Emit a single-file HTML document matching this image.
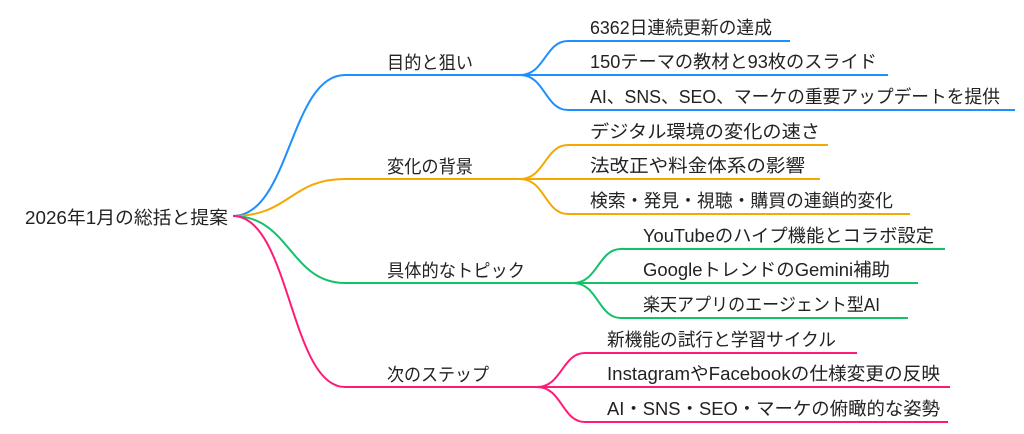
<!DOCTYPE html>
<html><head><meta charset="utf-8"><style>
body{margin:0;background:#fff;}
svg{display:block}
text{font-family:"Liberation Sans","Noto Sans CJK JP",sans-serif;font-size:18px;fill:#222;}
</style></head><body>
<svg width="1024" height="434" viewBox="0 0 1024 434">
<g fill="none" stroke-width="2">
<g stroke="#1e8fff">
<path d="M233 216 C290 216 290 75 345 75 L520 75"/>
<path d="M520 75 C545 75 545 41 568 41 L790 41"/>
<path d="M520 75 L888 75"/>
<path d="M520 75 C545 75 545 110 568 110 L1015 110"/>
</g>
<g stroke="#f5a800">
<path d="M233 216 C290 216 290 179 345 179 L520 179"/>
<path d="M520 179 C545 179 545 145 568 145 L828 145"/>
<path d="M520 179 L820 179"/>
<path d="M520 179 C545 179 545 214 568 214 L910 214"/>
</g>
<g stroke="#14c06a">
<path d="M233 216 C290 216 290 283 345 283 L573 283"/>
<path d="M573 283 C598 283 598 249 621 249 L945 249"/>
<path d="M573 283 L918 283"/>
<path d="M573 283 C598 283 598 318 621 318 L908 318"/>
</g>
<g stroke="#ff1a78">
<path d="M233 216 C290 216 290 387 345 387 L537 387"/>
<path d="M537 387 C562 387 562 353 585 353 L857 353"/>
<path d="M537 387 L950 387"/>
<path d="M537 387 C562 387 562 422 585 422 L948 422"/>
</g>
</g>
<text x="25" y="224" textLength="203" lengthAdjust="spacingAndGlyphs">2026年1月の総括と提案</text>
<text x="387" y="69" textLength="86" lengthAdjust="spacingAndGlyphs">目的と狙い</text>
<text x="387" y="173" textLength="86" lengthAdjust="spacingAndGlyphs">変化の背景</text>
<text x="387" y="277" textLength="138" lengthAdjust="spacingAndGlyphs">具体的なトピック</text>
<text x="387" y="381" textLength="102" lengthAdjust="spacingAndGlyphs">次のステップ</text>
<text x="590" y="34" textLength="182" lengthAdjust="spacingAndGlyphs">6362日連続更新の達成</text>
<text x="590" y="68" textLength="287" lengthAdjust="spacingAndGlyphs">150テーマの教材と93枚のスライド</text>
<text x="590" y="103" textLength="410" lengthAdjust="spacingAndGlyphs">AI、SNS、SEO、マーケの重要アップデートを提供</text>
<text x="590" y="138" textLength="230" lengthAdjust="spacingAndGlyphs">デジタル環境の変化の速さ</text>
<text x="590" y="172" textLength="215" lengthAdjust="spacingAndGlyphs">法改正や料金体系の影響</text>
<text x="590" y="207" textLength="303" lengthAdjust="spacingAndGlyphs">検索・発見・視聴・購買の連鎖的変化</text>
<text x="643" y="242" textLength="291" lengthAdjust="spacingAndGlyphs">YouTubeのハイプ機能とコラボ設定</text>
<text x="643" y="276" textLength="247" lengthAdjust="spacingAndGlyphs">GoogleトレンドのGemini補助</text>
<text x="643" y="311" textLength="237" lengthAdjust="spacingAndGlyphs">楽天アプリのエージェント型AI</text>
<text x="607" y="346" textLength="229" lengthAdjust="spacingAndGlyphs">新機能の試行と学習サイクル</text>
<text x="607" y="380" textLength="333" lengthAdjust="spacingAndGlyphs">InstagramやFacebookの仕様変更の反映</text>
<text x="607" y="415" textLength="333" lengthAdjust="spacingAndGlyphs">AI・SNS・SEO・マーケの俯瞰的な姿勢</text>
</svg>
</body></html>
